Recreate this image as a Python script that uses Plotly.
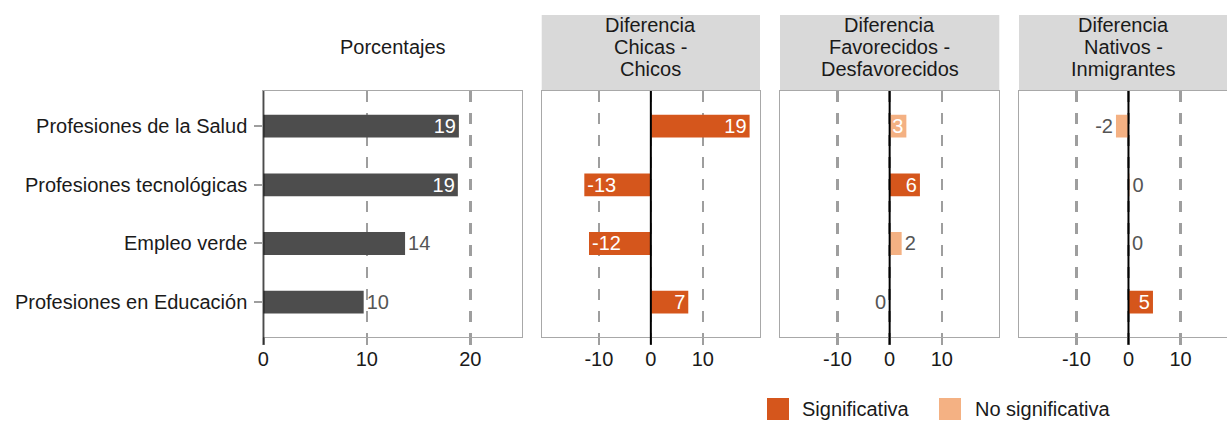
import plotly.graph_objects as go

# ---------------- data ----------------
categories = ["Profesiones de la Salud", "Profesiones tecnológicas",
              "Empleo verde", "Profesiones en Educación"]

porcentajes = [18.9, 18.8, 13.7, 9.7]

dif_genero = [19.0, -12.8, -11.9, 7.2]
sig_genero = [True, True, True, True]

dif_ses = [3.2, 5.8, 2.3, -0.1]
sig_ses = [False, True, False, False]

dif_inmig = [-2.4, 0.2, 0.1, 4.7]
sig_inmig = [False, False, False, True]

panel_titles = [
    ["Porcentajes"],
    ["Diferencia", "Chicas -", "Chicos"],
    ["Diferencia", "Favorecidos -", "Desfavorecidos"],
    ["Diferencia", "Nativos -", "Inmigrantes"],
]
tick_vals_pct = [0, 10, 20]
tick_vals_dif = [-10, 0, 10]
legend_labels = ["Significativa", "No significativa"]

# ---------------- styles ----------------
FONT = "Liberation Sans, Arial, Helvetica, sans-serif"
FS = 20
C_SIG = "#d5561c"
C_NS = "#f4b183"
C_GREY_BAR = "#4d4d4d"
C_LABEL_OUT = "#555555"
C_GRID = "#9e9e9e"
C_FRAME = "#a8a8a8"
C_STRIP = "#d9d9d9"
C_TEXT = "#1a1a1a"

W, H = 1227, 421
y_dom = [(H - 337.3) / H, (H - 91) / H]
x_doms = [
    [263.3 / W, 522 / W],
    [541.7 / W, 760 / W],
    [780 / W, 999.3 / W],
    [1019 / W, 1.0],
]
x_ranges = [[0, 25], [-21, 21], [-21, 21], [-21, 18.9]]


def labels_for(values):
    return [f"{int(round(v))}" for v in values]


fig = go.Figure()

# panel 1: percentages
pos1 = ["inside" if v >= 15 else "outside" for v in porcentajes]
fig.add_trace(go.Bar(
    x=porcentajes, y=categories, orientation="h",
    marker=dict(color=C_GREY_BAR, line=dict(width=0)),
    width=0.39,
    text=labels_for(porcentajes), textposition=pos1,
    insidetextanchor="end", textangle=0,
    textfont=dict(size=FS, family=FONT,
                  color=["white" if p == "inside" else C_LABEL_OUT for p in pos1]),
    cliponaxis=False, hoverinfo="skip",
    xaxis="x", yaxis="y",
))

diffs = [(dif_genero, sig_genero), (dif_ses, sig_ses), (dif_inmig, sig_inmig)]
for i, (vals, sig) in enumerate(diffs, start=2):
    pos = ["inside" if abs(v) >= 2.5 else "outside" for v in vals]
    fig.add_trace(go.Bar(
        x=vals, y=categories, orientation="h",
        marker=dict(color=[C_SIG if s else C_NS for s in sig], line=dict(width=0)),
        width=0.39,
        text=labels_for(vals), textposition=pos,
        insidetextanchor="end", textangle=0,
        textfont=dict(size=FS, family=FONT,
                      color=["white" if p == "inside" else C_LABEL_OUT for p in pos]),
        cliponaxis=False, hoverinfo="skip",
        xaxis=f"x{i}", yaxis=f"y{i}",
    ))

layout = dict(
    width=W, height=H,
    margin=dict(l=0, r=0, t=0, b=0, autoexpand=False),
    paper_bgcolor="white", plot_bgcolor="white",
    showlegend=False,
    font=dict(family=FONT, size=FS, color=C_TEXT),
    uniformtext=dict(minsize=FS, mode="show"),
)

shapes = []
annotations = []
for i in range(4):
    sfx = "" if i == 0 else str(i + 1)
    tv = tick_vals_pct if i == 0 else tick_vals_dif
    xa = dict(
        domain=x_doms[i], range=x_ranges[i], anchor=f"y{sfx}",
        tickmode="array", tickvals=tv, ticktext=[str(v) for v in tv],
        showgrid=True, gridcolor=C_GRID, gridwidth=2.5, griddash="11px,11px",
        ticks="outside", ticklen=7, tickwidth=2.5, tickcolor=C_GRID,
        ticklabelstandoff=-3,
        showline=True, linecolor=C_FRAME, linewidth=1, mirror=True,
        zeroline=False, fixedrange=True, automargin=False,
        tickfont=dict(size=FS, color=C_TEXT, family=FONT),
    )
    ya = dict(
        domain=y_dom, anchor=f"x{sfx}", type="category",
        categoryorder="array", categoryarray=categories[::-1],
        range=[-0.6, 3.6],
        showgrid=False, zeroline=False, fixedrange=True, automargin=False,
        showline=True, linecolor=C_FRAME, linewidth=1,
        mirror=(i != 3),
    )
    if i == 0:
        ya.update(ticks="outside", ticklen=8, tickwidth=2, tickcolor=C_GRID,
                  showticklabels=True, ticklabelstandoff=3,
                  tickfont=dict(size=FS, color=C_TEXT, family=FONT))
    else:
        ya.update(ticks="", showticklabels=False)
    layout[f"xaxis{sfx}"] = xa
    layout[f"yaxis{sfx}"] = ya

    # zero line (black) incl. its tick
    shapes.append(dict(type="line", xref=f"x{sfx}", yref=f"y{sfx} domain",
                       x0=0, x1=0, y0=-0.03, y1=1,
                       line=dict(color="black", width=2), layer="above"))

    # strip background + text
    if i > 0:
        shapes.append(dict(type="rect", xref=f"x{sfx} domain", yref="paper",
                           x0=0, x1=1, y0=y_dom[1], y1=(H - 15) / H,
                           fillcolor=C_STRIP, line=dict(width=0), layer="below"))
    lines = panel_titles[i]
    if len(lines) == 1:
        ys = [(H - 47) / H]
    else:
        ys = [(H - 25) / H, (H - 47) / H, (H - 69) / H]
    for txt, yy in zip(lines, ys):
        annotations.append(dict(text=txt, xref=f"x{sfx} domain", yref="paper",
                                x=0.5, y=yy, xanchor="center", yanchor="middle",
                                showarrow=False,
                                font=dict(size=FS, color=C_TEXT, family=FONT)))

# manual legend
leg_items = [(legend_labels[0], C_SIG, 767, 800), (legend_labels[1], C_NS, 939, 973)]
for lab, col, x_sq, x_txt in leg_items:
    shapes.append(dict(type="rect", xref="paper", yref="paper",
                       x0=x_sq / W, x1=(x_sq + 22) / W,
                       y0=(H - 420) / H, y1=(H - 398) / H,
                       fillcolor=col, line=dict(width=0)))
    annotations.append(dict(text=lab, xref="paper", yref="paper",
                            x=x_txt / W, y=(H - 409) / H,
                            xanchor="left", yanchor="middle", showarrow=False,
                            font=dict(size=FS, color=C_TEXT, family=FONT)))

layout["shapes"] = shapes
layout["annotations"] = annotations
fig.update_layout(**layout)

fig.write_html(
    "out.html",
    config={"displayModeBar": False, "staticPlot": True},
    post_script="document.body.style.margin='0';document.body.style.overflow='hidden';",
)
